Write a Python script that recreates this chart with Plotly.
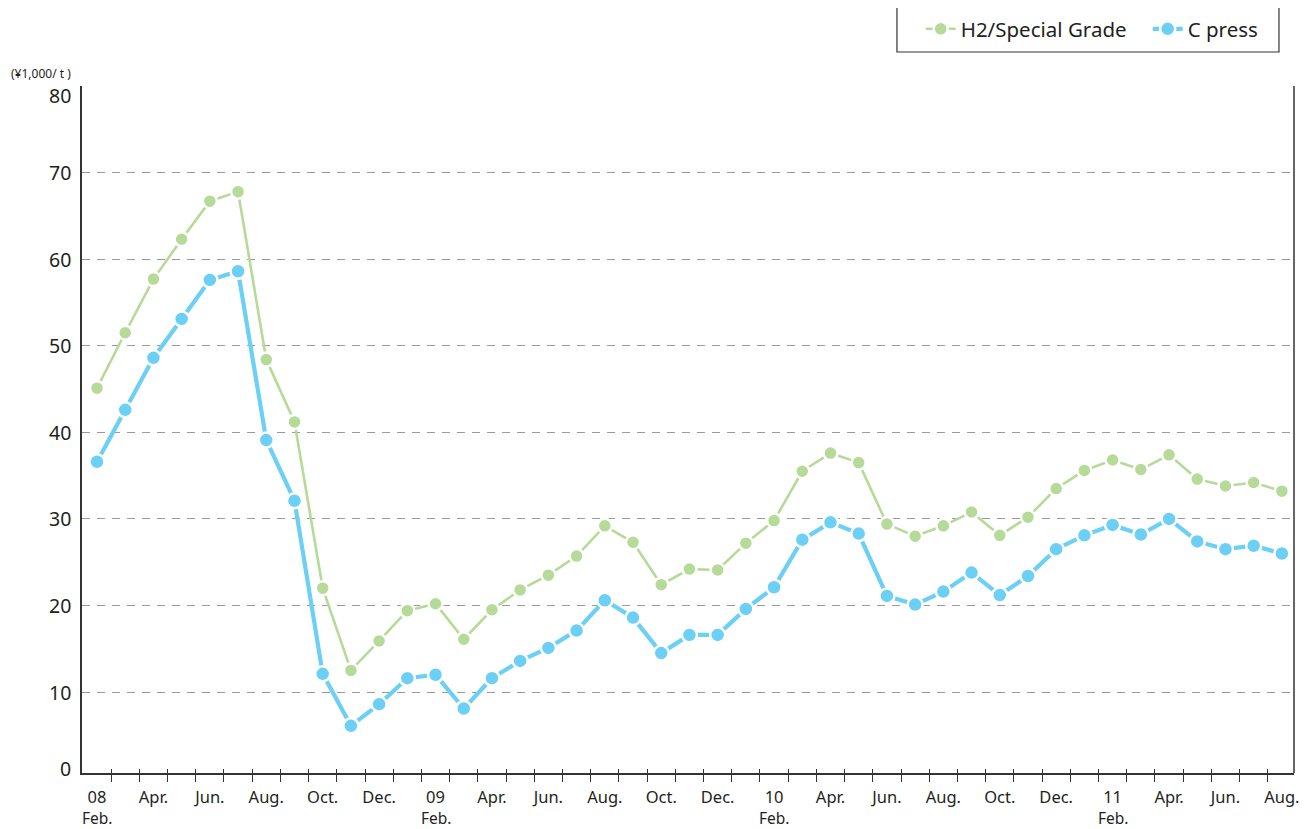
import plotly.graph_objects as go

months = ["Feb.", "Mar.", "Apr.", "May", "Jun.", "Jul.", "Aug.", "Sep.", "Oct.", "Nov.", "Dec.", "Jan."]
# 43 monthly points, Feb 2008 .. Aug 2011
years = ["08", "09", "10", "11"]
n_points = 43
x_idx = list(range(n_points))

h2_special = [45.1, 51.5, 57.7, 62.3, 66.7, 67.8, 48.4, 41.2, 22.0, 12.5,
              15.9, 19.4, 20.2, 16.1, 19.5, 21.8, 23.5, 25.7, 29.2, 27.3,
              22.4, 24.2, 24.1, 27.2, 29.8, 35.5, 37.6, 36.5, 29.4, 28.0,
              29.2, 30.8, 28.1, 30.2, 33.5, 35.6, 36.8, 35.7, 37.4, 34.6,
              33.8, 34.2, 33.2]
c_press = [36.6, 42.6, 48.6, 53.1, 57.6, 58.6, 39.1, 32.1, 12.1, 6.1,
           8.6, 11.6, 12.0, 8.1, 11.6, 13.6, 15.1, 17.1, 20.6, 18.6,
           14.5, 16.6, 16.6, 19.6, 22.1, 27.6, 29.6, 28.3, 21.1, 20.1,
           21.6, 23.8, 21.2, 23.4, 26.5, 28.1, 29.3, 28.2, 30.0, 27.4,
           26.5, 26.9, 26.0]

y_tick_vals = [0, 10, 20, 30, 40, 50, 60, 70, 80]
y_tick_text = ["0", "10", "20", "30", "40", "50", "60", "70", "80"]
y_unit = "(¥1,000/ t )"

# x tick labels every two months; Feb. gets the year above it
x_label_vals = []
x_label_text = []
feb_vals = []
for i in range(0, n_points, 2):
    m = months[i % 12]
    if m == "Feb.":
        x_label_text.append(years[i // 12])
        feb_vals.append(i)
    else:
        x_label_text.append(m)
    x_label_vals.append(i)
x_minor_vals = [i + 0.5 for i in range(n_points - 1)]

GREEN = "#b6da98"
BLUE = "#6ccff6"
TXT = "#231f20"
FONT = "Noto Sans"

fig = go.Figure()
fig.add_trace(go.Scatter(
    x=x_idx, y=h2_special, name="H2/Special Grade", mode="lines+markers",
    line=dict(color=GREEN, width=2.6),
    marker=dict(color=GREEN, size=14, line=dict(color="white", width=2.5)),
))
fig.add_trace(go.Scatter(
    x=x_idx, y=c_press, name="C press", mode="lines+markers",
    line=dict(color=BLUE, width=4.2),
    marker=dict(color=BLUE, size=15, line=dict(color="white", width=2.5)),
))
# invisible trace to carry the inside half of the crossing ticks
fig.add_trace(go.Scatter(x=[0], y=[None], xaxis="x2", showlegend=False, hoverinfo="skip"))

y_bottom = 0.65
# the page body adds an 8px margin, so the figure is 8px smaller on each axis
fig.update_layout(
    width=1304, height=821,
    margin=dict(l=74, r=18, t=78, b=56, autoexpand=False),
    paper_bgcolor="white", plot_bgcolor="white",
    font=dict(family=FONT, color=TXT),
    showlegend=True,
    legend=dict(
        orientation="h", x=0.692, xanchor="left", y=1.1121, yanchor="top",
        borderwidth=0, bgcolor="rgba(0,0,0,0)",
        font=dict(size=20.5, family=FONT, color=TXT),
        itemwidth=30, entrywidth=182, entrywidthmode="pixels",
    ),
    xaxis=dict(
        range=[-0.532, 42.43], showgrid=False, zeroline=False,
        showline=True, linecolor="#333333", linewidth=1.5, mirror=False,
        tickmode="array", tickvals=x_label_vals, ticktext=x_label_text,
        ticks="outside", ticklen=8, tickcolor="rgba(0,0,0,0)",
        tickfont=dict(size=16.5, family=FONT, color=TXT),
        minor=dict(tickmode="array", tickvals=x_minor_vals, ticks="outside",
                   ticklen=7, tickcolor="#333333", tickwidth=1.2),
    ),
    xaxis2=dict(
        range=[-0.532, 42.43], overlaying="x", side="bottom", anchor="y",
        showgrid=False, zeroline=False, showline=False,
        tickmode="array", tickvals=x_minor_vals, ticks="inside", ticklen=4,
        tickcolor="#333333", tickwidth=1.2, showticklabels=False,
    ),
    yaxis=dict(
        range=[y_bottom, 80], showgrid=True, gridcolor="#9a9a9a", gridwidth=1.3,
        griddash="8px,7px", zeroline=False,
        showline=True, linecolor="#333333", linewidth=1.5,
        tickmode="array", tickvals=[v for v in y_tick_vals if v > 0],
        showticklabels=False, ticks="",
    ),
)

# right-hand border of the plot
fig.add_shape(type="line", xref="paper", yref="paper", x0=1, x1=1, y0=0, y1=1,
              line=dict(color="#333333", width=1.5))
# legend frame
fig.add_shape(type="rect", xref="paper", yref="paper",
              x0=0.6724, x1=0.9876, y0=1.0495, y1=1.1164,
              line=dict(color="#333333", width=1.2), layer="above")

# second line "Feb." under the year labels
for xv in feb_vals:
    fig.add_annotation(
        xref="x", yref="paper", x=xv, y=0, text="Feb.", showarrow=False,
        xanchor="center", yanchor="middle", yshift=-45, borderpad=0,
        font=dict(size=15.5, family=FONT, color=TXT),
    )

# y tick labels
for v, t in zip(y_tick_vals, y_tick_text):
    yv = max(v, y_bottom)
    fig.add_annotation(
        xref="paper", yref="y", x=0, y=yv, text=t, showarrow=False,
        xanchor="right", yanchor="middle", xshift=-9,
        yshift=(-9 if v == 80 else (5 if v == 0 else 0)),
        font=dict(size=19.5, family=FONT, color=TXT),
    )

fig.add_annotation(
    xref="paper", yref="paper", x=0, y=1, text=y_unit, showarrow=False,
    xanchor="right", yanchor="middle", xshift=-9, yshift=13,
    font=dict(size=12, family=FONT, color=TXT),
)

fig.write_html("out.html")
